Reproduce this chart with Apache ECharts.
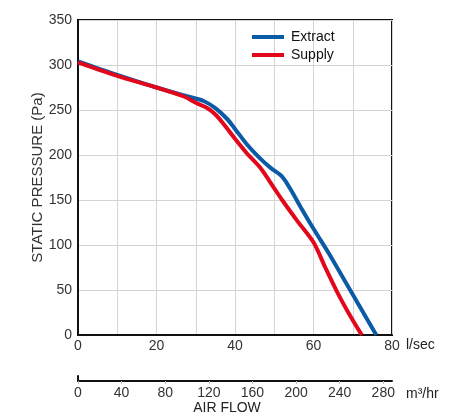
<!DOCTYPE html>
<html>
<head>
<meta charset="utf-8">
<script src="https://cdn.jsdelivr.net/npm/echarts@6/dist/echarts.min.js"></script>
<style>html,body{margin:0;padding:0;background:#fff}#c{width:454px;height:416px}</style>
</head>
<body>
<div id="c"></div>
<script>
// Airflow (l/sec) and static pressure (Pa)
const extractFlow = [0, 10, 20, 28, 32, 35, 38, 40, 43, 46, 49, 52, 54, 57, 60, 64, 68, 72, 76];
const extractPressure = [304, 289, 275, 265, 260, 252, 240, 229, 212, 198, 186, 176, 163, 140, 118, 90, 60, 30, 0];
const supplyFlow = [0, 10, 20, 27, 30, 33, 35, 37, 40, 43, 46.4, 50, 52, 56, 60, 63, 66, 69, 72.3];
const supplyPressure = [303, 288, 275, 265, 258, 252, 245, 235, 218, 202, 186, 163, 150, 126, 103, 75, 48, 24, 0];
const lsecTicks = [0, 20, 40, 60, 80];
const m3hrTicks = [0, 40, 80, 120, 160, 200, 240, 280];
const pressureTicks = [0, 50, 100, 150, 200, 250, 300, 350];
const seriesNames = ['Extract', 'Supply'];

const font = 'Liberation Sans, Arial, Helvetica, sans-serif';
const chart = echarts.init(document.getElementById('c'), null, {renderer: 'canvas'});
chart.setOption({
  animation: false,
  textStyle: {fontFamily: font},
  grid: [
    {left: 78, right: 62, top: 20, bottom: 81, show: true, borderColor: '#111', borderWidth: 2, containLabel: false},
    {left: 78, right: 62, top: 376, height: 5, show: false}
  ],
  legend: {
    orient: 'vertical', left: 252, top: 29, padding: 0, itemWidth: 32, itemHeight: 4, itemGap: 2,
    icon: 'rect',
    textStyle: {fontSize: 14, color: '#111', lineHeight: 16, fontFamily: font, padding: [0, 0, 0, 2]},
    data: seriesNames
  },
  xAxis: [
    {
      type: 'value', gridIndex: 0, min: 0, max: 80, interval: 10,
      name: 'l/sec', nameLocation: 'end', nameGap: 14,
      nameTextStyle: {fontSize: 14, color: '#222', verticalAlign: 'top', padding: [3, 0, 0, 0]},
      axisLine: {show: true, lineStyle: {color: '#111', width: 2}},
      axisTick: {show: false},
      axisLabel: {fontSize: 14, color: '#333', margin: 4, customValues: lsecTicks},
      splitLine: {show: true, lineStyle: {color: '#d4d4d4', width: 1}}
    },
    {
      type: 'value', gridIndex: 1, min: 0, max: 288, position: 'top',
      name: 'm³/hr', nameLocation: 'end', nameGap: 14, nameMoveOverlap: false,
      nameTextStyle: {fontSize: 14, color: '#222', verticalAlign: 'top', padding: [6, 0, 0, 0]},
      axisLine: {show: true, lineStyle: {color: '#111', width: 2}},
      axisTick: {show: true, inside: true, length: 3, lineStyle: {color: '#bbb'}, customValues: m3hrTicks},
      axisLabel: {fontSize: 14, color: '#333', inside: true, margin: 10, verticalAlign: 'top', customValues: m3hrTicks},
      splitLine: {show: false}
    }
  ],
  yAxis: [
    {
      type: 'value', gridIndex: 0, min: 0, max: 350, interval: 50,
      name: 'STATIC PRESSURE (Pa)', nameLocation: 'middle', nameGap: 33, nameMoveOverlap: false,
      nameTextStyle: {fontSize: 15, color: '#333'},
      axisLine: {show: true, lineStyle: {color: '#111', width: 2}},
      axisTick: {show: false},
      axisLabel: {fontSize: 14, color: '#333', margin: 6, customValues: pressureTicks},
      splitLine: {show: true, lineStyle: {color: '#d4d4d4', width: 1}}
    },
    {type: 'value', gridIndex: 1, min: 0, max: 1, axisLine: {show: true, lineStyle: {color: '#111', width: 2}},
     axisTick: {show: false}, axisLabel: {show: false}, splitLine: {show: false}}
  ],
  graphic: [
    {type: 'text', left: 'center', top: 401, x: 4,
     style: {text: 'AIR FLOW', fontSize: 14, fill: '#222', fontFamily: font}}
  ],
  series: [
    {
      name: seriesNames[0], type: 'line', xAxisIndex: 0, yAxisIndex: 0, smooth: 0.3, symbol: 'none',
      lineStyle: {color: '#0a5aa5', width: 4}, itemStyle: {color: '#0a5aa5'},
      data: extractFlow.map((f, i) => [f, extractPressure[i]])
    },
    {
      name: seriesNames[1], type: 'line', xAxisIndex: 0, yAxisIndex: 0, smooth: 0.3, symbol: 'none',
      lineStyle: {color: '#e3071b', width: 4}, itemStyle: {color: '#e3071b'},
      data: supplyFlow.map((f, i) => [f, supplyPressure[i]])
    }
  ]
});
</script>
</body>
</html>
